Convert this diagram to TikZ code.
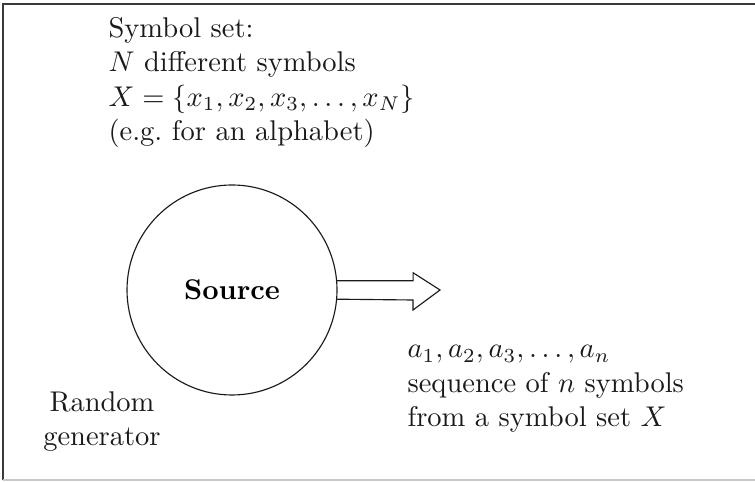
\documentclass[tikz,border=0pt]{standalone}
\usepackage{amsmath}
\usepackage{tikz}
\usetikzlibrary{positioning}
\definecolor{Ink}{HTML}{1A1A1A}
\definecolor{Frame}{HTML}{3A3A3A}
\definecolor{FrameSoft}{HTML}{C8C8C8}
\tikzset{
  label/.style={align=left,inner sep=0pt,text=Ink},
  srccircle/.style={circle,draw=Ink,line width=0.4pt,minimum size=210*0.3509pt,inner sep=0pt,font=\bfseries},
  outarrow/.style={draw=Ink,line width=0.4pt,line join=miter}
}
\begin{document}
\begin{tikzpicture}[x=0.3509pt,y=-0.3509pt]
\useasboundingbox (0,0) rectangle (755,482);
\draw[Frame,line width=0.6pt] (755,4) -- (3,4) -- (3,480);
\draw[FrameSoft,line width=0.5pt] (3,480) -- (755,480);
% source
\node[srccircle] (src) at (232,290) {Source};
\node[label,anchor=north west] (set) at (108,17) {Symbol set:\\$N$ different symbols\\$X=\{x_1,x_2,x_3,\ldots,x_N\}$\\(e.g.\ for an alphabet)};
\node[label,align=center,anchor=north] (gen) at (102,391) {Random\\generator};
% output
\coordinate (tip) at (440,290);
\draw[outarrow] (src.5.5) -- ++(76,0) -- ++(0,-8) -- (tip) -- ++(-27,20) -- ++(0,-10) -- (src.-5.5);
\node[label,anchor=north west] (seq) at (407,345) {$a_1,a_2,a_3,\ldots,a_n$\\sequence of $n$ symbols\\from a symbol set $X$};
\end{tikzpicture}
\end{document}
